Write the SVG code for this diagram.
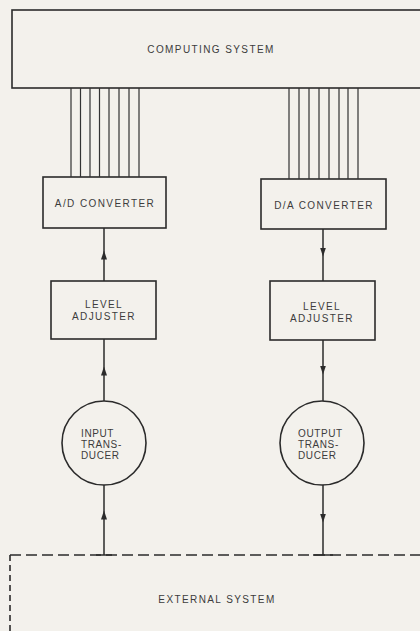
<svg xmlns="http://www.w3.org/2000/svg" width="420" height="631" viewBox="0 0 420 631">
<defs>
<style>
.box{fill:none;stroke:#2b2b2b;stroke-width:1.6}
.ln{fill:none;stroke:#2b2b2b;stroke-width:1.5}
.bus{fill:none;stroke:#333;stroke-width:1.2}
.dash{fill:none;stroke:#2b2b2b;stroke-width:1.6;stroke-dasharray:11 5}
.vdash{fill:none;stroke:#2b2b2b;stroke-width:1.6;stroke-dasharray:6 4}
.t{font-family:"Liberation Sans",Arial,sans-serif;font-size:10px;letter-spacing:1.4px;fill:#3c3c3c;text-anchor:middle}
.ts{font-family:"Liberation Sans",Arial,sans-serif;font-size:10px;letter-spacing:0.6px;fill:#3c3c3c;text-anchor:start}
</style>
<marker id="arr" markerWidth="9" markerHeight="6" refX="4.5" refY="3" orient="auto" markerUnits="userSpaceOnUse" viewBox="0 0 9 6">
<path d="M0,0 L9,3 L0,6 Z" fill="#2b2b2b"/>
</marker>
</defs>
<rect width="420" height="631" fill="#f3f1ec"/>
<g id="computing-system">
<rect class="box" x="12" y="10" width="420" height="78"/>
<text class="t" x="211" y="53">COMPUTING SYSTEM</text>
</g>
<g id="ad-converter">
<rect class="box" x="43" y="177" width="123" height="51"/>
<text class="t" x="105" y="207">A/D CONVERTER</text>
</g>
<g id="da-converter">
<rect class="box" x="261" y="179" width="125" height="50"/>
<text class="t" x="324" y="209">D/A CONVERTER</text>
</g>
<g id="level-adjuster-left">
<rect class="box" x="51" y="281" width="105" height="58"/>
<text class="t" x="104" y="308">LEVEL</text>
<text class="t" x="104" y="320">ADJUSTER</text>
</g>
<g id="level-adjuster-right">
<rect class="box" x="270" y="281" width="105" height="59"/>
<text class="t" x="322" y="310">LEVEL</text>
<text class="t" x="322" y="322">ADJUSTER</text>
</g>
<g id="input-transducer">
<circle class="box" cx="104" cy="443" r="42"/>
<text class="ts" x="81" y="437">INPUT</text>
<text class="ts" x="81" y="448">TRANS-</text>
<text class="ts" x="81" y="459">DUCER</text>
</g>
<g id="output-transducer">
<circle class="box" cx="322" cy="443" r="42"/>
<text class="ts" x="298" y="437">OUTPUT</text>
<text class="ts" x="298" y="448">TRANS-</text>
<text class="ts" x="298" y="459">DUCER</text>
</g>
<g id="external-system">
<path class="dash" d="M10,555 L420,555"/>
<path class="vdash" d="M10,555 L10,631"/>
<text class="t" x="217" y="603">EXTERNAL SYSTEM</text>
</g>
<g id="connectors">
<path class="bus" d="M71,88V177M80.5,88V177M90,88V177M99.5,88V177M109,88V177M119,88V177M129,88V177M139,88V177"/>
<path class="bus" d="M289,88V179M299,88V179M309,88V179M319,88V179M329,88V179M339,88V179M348,88V179M358,88V179"/>
<path class="ln" d="M104,281 L104,255 L104,228" marker-mid="url(#arr)"/>
<path class="ln" d="M104,401 L104,371 L104,339" marker-mid="url(#arr)"/>
<path class="ln" d="M104,555 L104,515 L104,485" marker-mid="url(#arr)"/>
<path class="ln" d="M323,229 L323,252 L323,281" marker-mid="url(#arr)"/>
<path class="ln" d="M323,340 L323,370 L323,401" marker-mid="url(#arr)"/>
<path class="ln" d="M323,485 L323,518 L323,555" marker-mid="url(#arr)"/>
<path class="ln" d="M96,555 H112 M313,555 H333" stroke-width="1.6"/>
</g>
</svg>
